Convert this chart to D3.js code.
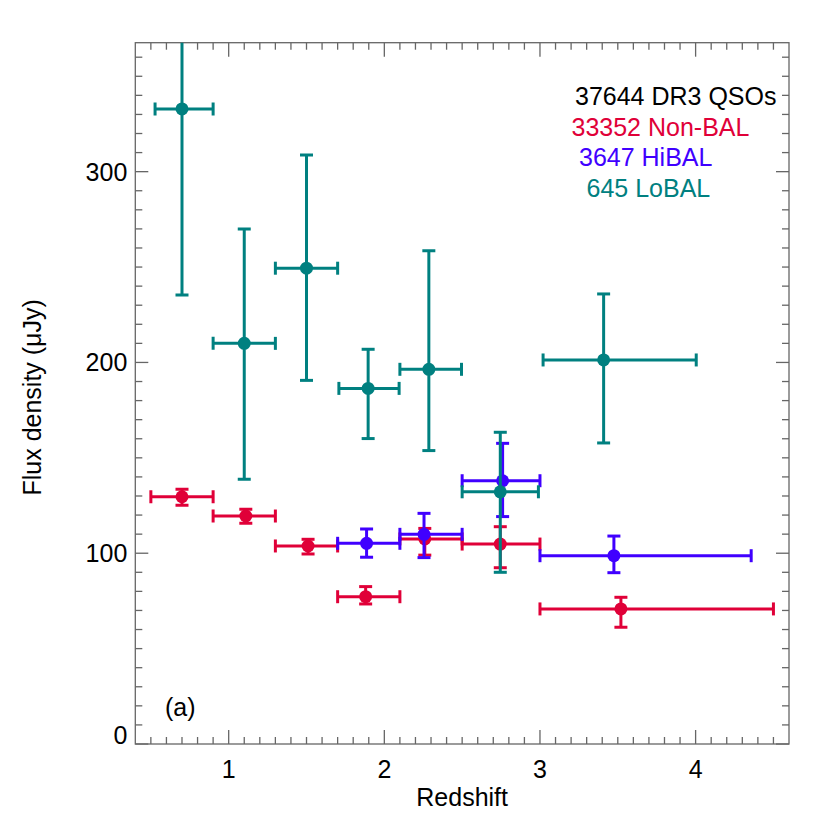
<!DOCTYPE html>
<html><head><meta charset="utf-8">
<script src="https://cdn.jsdelivr.net/npm/d3@7"></script>
<style>body{margin:0;background:#fff}svg{display:block}text{font-family:"Liberation Sans",Arial,sans-serif}</style>
</head><body><svg id="c" width="830" height="830"></svg>
<script>
// Non-BAL
const nonbalZ   = [0.70, 1.11, 1.51, 1.88, 2.26, 2.745, 3.52];
const nonbalZlo = [0.50, 0.90, 1.30, 1.70, 2.10, 2.50, 3.00];
const nonbalZhi = [0.90, 1.30, 1.70, 2.10, 2.50, 3.00, 4.50];
const nonbalF   = [129.6, 119.5, 103.8, 77.2, 107.5, 104.8, 70.8];
const nonbalFlo = [125.1, 115.7, 99.6, 73.4, 99.0, 92.4, 61.2];
const nonbalFhi = [133.5, 123.0, 107.3, 82.5, 113.0, 113.9, 76.9];
// HiBAL
const hibalZ   = [1.886, 2.255, 2.76, 3.475];
const hibalZlo = [1.70, 2.10, 2.50, 3.00];
const hibalZhi = [2.10, 2.50, 3.00, 4.357];
const hibalF   = [105.2, 109.9, 138.0, 98.7];
const hibalFlo = [97.9, 97.7, 119.2, 89.8];
const hibalFhi = [112.7, 120.9, 157.6, 109.0];
// LoBAL
const lobalZ   = [0.70, 1.10, 1.50, 1.896, 2.286, 2.745, 3.409];
const lobalZlo = [0.527, 0.90, 1.30, 1.708, 2.10, 2.50, 3.02];
const lobalZhi = [0.90, 1.30, 1.70, 2.095, 2.496, 2.99, 4.004];
const lobalF   = [332.9, 210.0, 249.4, 186.4, 196.4, 132.2, 201.3];
const lobalFlo = [235.4, 138.8, 190.6, 160.1, 153.8, 90.0, 157.8];
const lobalFhi = [430.0, 270.0, 308.7, 206.9, 258.6, 163.4, 235.9];

const xTicks = [1, 2, 3, 4];
const yTicks = [0, 100, 200, 300];
const legendLines = ["37644 DR3 QSOs", "33352 Non-BAL", "3647 HiBAL", "645 LoBAL"];
const panelLabel = "(a)";
const xTitle = "Redshift";
const yTitle = "Flux density (\u03bcJy)";

const svg = d3.select("#c");
const L = 135.3, R = 789, T = 42.7, B = 744;
const x = d3.scaleLinear().domain([0.4, 4.6]).range([L, R]);
const y = d3.scaleLinear().domain([0, 367.6]).range([B, T]);

const axisCol = "#666";
const FS = 25;
const g = svg.append("g");

const xMinor = d3.range(5, 46).map(v => v / 10).filter(v => !xTicks.includes(Math.round(v*10)/10));
const yMinor = d3.range(10, 370, 10).filter(v => v % 100 !== 0);

function drawAxes() {
  const ax = g.append("g").attr("stroke", axisCol).attr("stroke-width", 1.3).attr("fill", "none");
  ax.append("rect").attr("x", L).attr("y", T).attr("width", R - L).attr("height", B - T);
  xMinor.forEach(v => {
    ax.append("line").attr("x1", x(v)).attr("x2", x(v)).attr("y1", B).attr("y2", B - 7);
    ax.append("line").attr("x1", x(v)).attr("x2", x(v)).attr("y1", T).attr("y2", T + 7);
  });
  xTicks.forEach(v => {
    ax.append("line").attr("x1", x(v)).attr("x2", x(v)).attr("y1", B).attr("y2", B - 14);
    ax.append("line").attr("x1", x(v)).attr("x2", x(v)).attr("y1", T).attr("y2", T + 14);
  });
  yMinor.forEach(v => {
    ax.append("line").attr("x1", L).attr("x2", L + 7).attr("y1", y(v)).attr("y2", y(v));
    ax.append("line").attr("x1", R).attr("x2", R - 7).attr("y1", y(v)).attr("y2", y(v));
  });
  yTicks.forEach(v => {
    ax.append("line").attr("x1", L).attr("x2", L + 13).attr("y1", y(v)).attr("y2", y(v));
    ax.append("line").attr("x1", R).attr("x2", R - 13).attr("y1", y(v)).attr("y2", y(v));
  });
  g.selectAll(".xt").data(xTicks).enter().append("text")
    .attr("x", d => x(d)).attr("y", B + 34).attr("text-anchor", "middle")
    .attr("font-size", FS).text(d => d);
  g.selectAll(".yt").data(yTicks).enter().append("text")
    .attr("x", L - 8).attr("y", d => y(d) + (d === 0 ? 0 : 9)).attr("text-anchor", "end")
    .attr("font-size", FS).text(d => d);
  g.append("text").attr("x", (L + R) / 2).attr("y", 806).attr("text-anchor", "middle")
    .attr("font-size", FS).text(xTitle);
  g.append("text").attr("transform", `translate(41,${(T + B) / 2 + 4}) rotate(-90)`)
    .attr("text-anchor", "middle").attr("font-size", FS).text(yTitle);
}
drawAxes();

svg.append("clipPath").attr("id", "clip").append("rect")
  .attr("x", L).attr("y", T).attr("width", R - L).attr("height", B - T);
const plot = svg.append("g").attr("clip-path", "url(#clip)");

function series(zs, zlo, zhi, f, flo, fhi, color) {
  const data = zs.map((z, i) => ({z, zlo: zlo[i], zhi: zhi[i], f: f[i], flo: flo[i], fhi: fhi[i]}));
  const s = plot.append("g").attr("stroke", color).attr("stroke-width", 3).attr("fill", color);
  const cap = 6.5;
  data.forEach(d => {
    s.append("line").attr("x1", x(d.zlo)).attr("x2", x(d.zhi)).attr("y1", y(d.f)).attr("y2", y(d.f));
    s.append("line").attr("x1", x(d.zlo)).attr("x2", x(d.zlo)).attr("y1", y(d.f) - cap).attr("y2", y(d.f) + cap);
    s.append("line").attr("x1", x(d.zhi)).attr("x2", x(d.zhi)).attr("y1", y(d.f) - cap).attr("y2", y(d.f) + cap);
    s.append("line").attr("x1", x(d.z)).attr("x2", x(d.z)).attr("y1", y(d.flo)).attr("y2", y(d.fhi));
    s.append("line").attr("x1", x(d.z) - cap).attr("x2", x(d.z) + cap).attr("y1", y(d.flo)).attr("y2", y(d.flo));
    s.append("line").attr("x1", x(d.z) - cap).attr("x2", x(d.z) + cap).attr("y1", y(d.fhi)).attr("y2", y(d.fhi));
    s.append("circle").attr("cx", x(d.z)).attr("cy", y(d.f)).attr("r", 6.5).attr("stroke", "none");
  });
}
const cRed = "#e00038", cBlue = "#4000ff", cTeal = "#008080";
series(nonbalZ, nonbalZlo, nonbalZhi, nonbalF, nonbalFlo, nonbalFhi, cRed);
series(hibalZ, hibalZlo, hibalZhi, hibalF, hibalFlo, hibalFhi, cBlue);
series(lobalZ, lobalZlo, lobalZhi, lobalF, lobalFlo, lobalFhi, cTeal);

const legCols = ["#000", cRed, cBlue, cTeal];
const legX = [575, 571.5, 579, 586.5];
legendLines.forEach((t, i) => {
  svg.append("text").attr("x", legX[i]).attr("y", 105 + i * 30.5)
    .attr("font-size", FS).attr("fill", legCols[i]).text(t);
});
svg.append("text").attr("x", 165).attr("y", 716).attr("font-size", FS).text(panelLabel);
</script></body></html>
